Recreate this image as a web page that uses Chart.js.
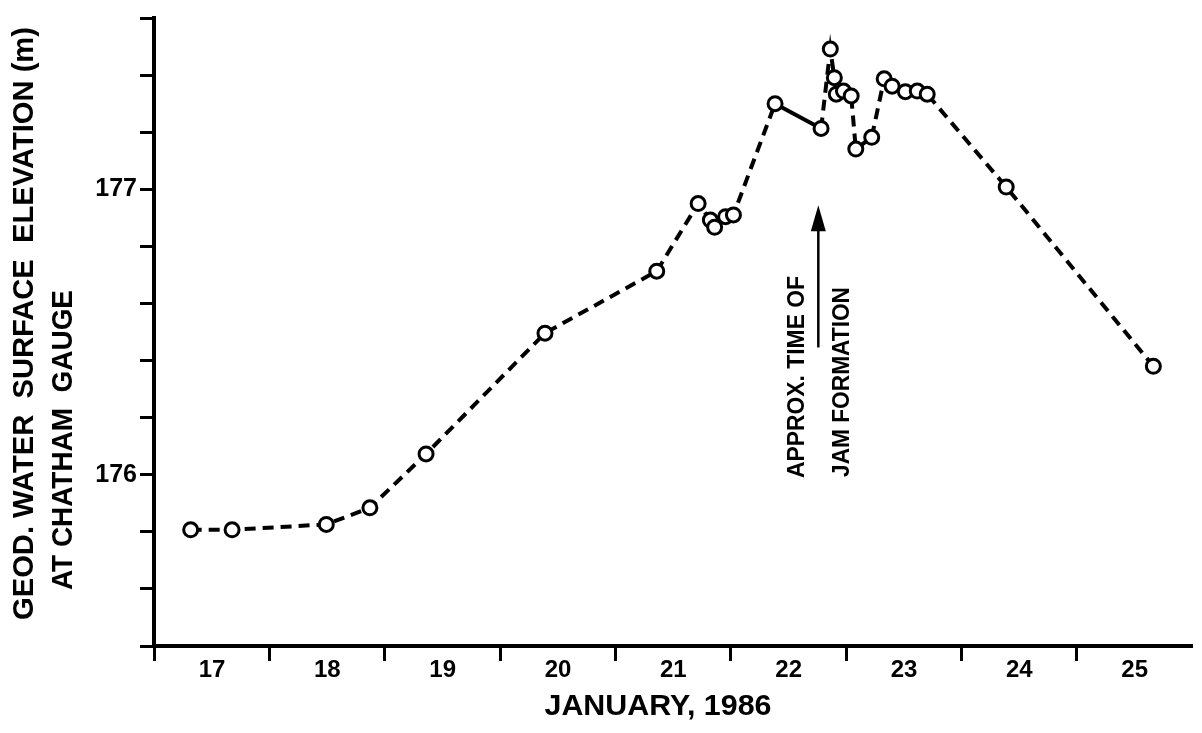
<!DOCTYPE html>
<html>
<head>
<meta charset="utf-8">
<script src="https://cdn.jsdelivr.net/npm/chart.js@4/dist/chart.umd.min.js"></script>
<style>
html,body{margin:0;padding:0;background:#fff;}
</style>
</head>
<body>
<canvas id="grafica" width="1202" height="733"></canvas>
<script>
// tiempo en dias de enero 1986 (17.0 = inicio del dia 17)
const dias = [17.318, 17.677, 18.494, 18.872, 19.359, 20.390, 21.359, 21.718, 21.824, 21.861,
              21.956, 22.024, 22.385, 22.784, 22.864, 22.899, 22.916, 22.978, 23.045, 23.085,
              23.223, 23.331, 23.400, 23.515, 23.618, 23.704, 24.389, 25.665];
// elevacion del agua en el aforo de Chatham (m)
const elevacion = [175.807, 175.807, 175.826, 175.884, 176.073, 176.496, 176.713, 176.950, 176.892, 176.867,
                   176.904, 176.910, 177.300, 177.213, 177.491, 177.391, 177.333, 177.344, 177.327, 177.141,
                   177.182, 177.387, 177.361, 177.342, 177.344, 177.333, 177.008, 176.380];
const xTicks = [17, 18, 19, 20, 21, 22, 23, 24, 25];
const xLabels = ['17', '18', '19', '20', '21', '22', '23', '24', '25'];
const yTicks = [175.4, 175.6, 175.8, 176.0, 176.2, 176.4, 176.6, 176.8, 177.0, 177.2, 177.4, 177.6];
const yLabels = ['', '', '', '176', '', '', '', '', '177', '', '', ''];
// flecha: hora aprox. de formacion del atasco
const jamTime = 22.76;
const jamFrom = 176.446;
const jamTo = 176.944;
const tramoContinuo = 12; // segmento dibujado sin guiones

const fuente = "'Liberation Sans', Arial, sans-serif";
const guion = [11, 7];

function textoVertical(ctx, str, cx, yInicio, size, ancho) {
  ctx.save();
  ctx.font = 'bold ' + size + 'px ' + fuente;
  const w = ctx.measureText(str).width;
  ctx.translate(cx, yInicio);
  ctx.rotate(-Math.PI / 2);
  ctx.scale(ancho / w, 1);
  ctx.textAlign = 'left';
  ctx.textBaseline = 'middle';
  ctx.fillStyle = '#000';
  ctx.fillText(str, 0, 0);
  ctx.restore();
}

const extras = {
  id: 'extras',
  afterDraw(chart) {
    const ctx = chart.ctx;
    const sx = chart.scales.x, sy = chart.scales.y;
    // titulos del eje y
    textoVertical(ctx, 'GEOD. WATER  SURFACE  ELEVATION (m)', 25, 620, 29, 593);
    textoVertical(ctx, 'AT CHATHAM  GAUGE', 63.5, 590, 29, 300);
    // titulo del eje x
    ctx.save();
    ctx.font = 'bold 30px ' + fuente;
    const t = 'JANUARY, 1986';
    const w = ctx.measureText(t).width;
    ctx.translate(658, 707);
    ctx.scale(227 / w, 1);
    ctx.textAlign = 'center';
    ctx.textBaseline = 'middle';
    ctx.fillStyle = '#000';
    ctx.fillText(t, 0, 0);
    ctx.restore();
    // flecha
    const ax = sx.getPixelForValue(jamTime);
    const yTip = sy.getPixelForValue(jamTo);
    const yBase = sy.getPixelForValue(jamFrom);
    ctx.save();
    ctx.strokeStyle = '#000';
    ctx.lineWidth = 2.5;
    ctx.beginPath();
    ctx.moveTo(ax, yBase);
    ctx.lineTo(ax, yTip + 20);
    ctx.stroke();
    ctx.fillStyle = '#000';
    ctx.beginPath();
    ctx.moveTo(ax, yTip);
    ctx.lineTo(ax - 7.5, yTip + 26);
    ctx.lineTo(ax + 7.5, yTip + 26);
    ctx.closePath();
    ctx.fill();
    ctx.restore();
    textoVertical(ctx, 'APPROX. TIME OF', ax - 21, 478, 24, 202);
    textoVertical(ctx, 'JAM FORMATION', ax + 24, 477, 24, 190);
  }
};

const ctx = document.getElementById('grafica').getContext('2d');
new Chart(ctx, {
  type: 'line',
  data: {
    datasets: [{
      data: dias.map((d, i) => ({ x: d, y: elevacion[i] })),
      borderColor: '#000',
      borderWidth: 4,
      borderDash: guion,
      tension: 0,
      pointRadius: 7,
      pointBorderWidth: 3,
      pointBorderColor: '#000',
      pointBackgroundColor: '#fff',
      segment: {
        borderDash: c => c.p0DataIndex === tramoContinuo ? [] : guion
      }
    }]
  },
  options: {
    responsive: false,
    animation: false,
    layout: { padding: { top: 13, right: 1, left: 0, bottom: 0 } },
    plugins: { legend: { display: false }, tooltip: { enabled: false } },
    scales: {
      x: {
        type: 'linear', min: 17, max: 26,
        afterBuildTicks: s => { s.ticks = xTicks.map(v => ({ value: v })); },
        afterFit: s => { s.height = 87; },
        border: { display: true, color: '#000', width: 4 },
        grid: { drawOnChartArea: false, drawTicks: true, tickLength: 15, tickWidth: 3, tickColor: '#000' },
        ticks: {
          color: '#000', font: { family: fuente, weight: 'bold', size: 24 },
          padding: -5, labelOffset: 58, maxRotation: 0, autoSkip: false,
          callback: (v, i) => xLabels[i]
        }
      },
      y: {
        type: 'linear', min: 175.4, max: 177.6,
        afterBuildTicks: s => { s.ticks = yTicks.map(v => ({ value: v })); },
        afterFit: s => { s.width = 154; },
        border: { display: true, color: '#000', width: 4 },
        grid: { drawOnChartArea: false, drawTicks: true, tickLength: 14, tickWidth: 3, tickColor: '#000' },
        ticks: {
          color: '#000', font: { family: fuente, weight: 'bold', size: 25 },
          padding: 3, autoSkip: false,
          callback: (v, i) => yLabels[i]
        }
      }
    }
  },
  plugins: [extras]
});
</script>
</body>
</html>
